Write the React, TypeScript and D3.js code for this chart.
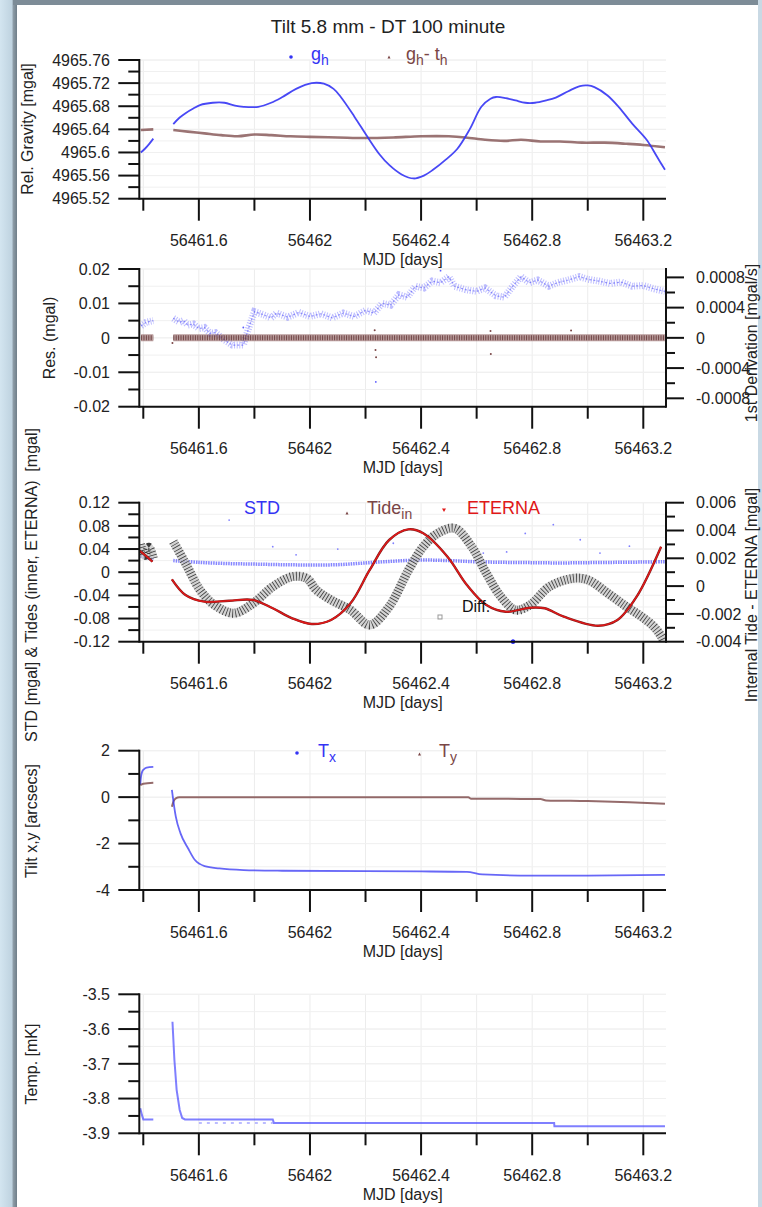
import React from 'react';
import * as d3 from 'd3';

type P = [number, number | null];

// ---------- shared x axis ----------
const xDomain: [number, number] = [56461.3856, 56463.2817];
const xMajorTicks = [56461.6, 56462, 56462.4, 56462.8, 56463.2];
const xMajorLabels = ['56461.6', '56462', '56462.4', '56462.8', '56463.2'];
const xMinorTicks = [56461.4, 56461.8, 56462.2, 56462.6, 56463.0];

// ---------- panel 1 : relative gravity ----------
const gh: P[] = [
  [56461.391, 4965.600], [56461.405, 4965.606], [56461.420, 4965.614], [56461.436, 4965.624], [56461.47, null],
  [56461.508, 4965.649], [56461.530, 4965.660], [56461.552, 4965.668], [56461.580, 4965.676], [56461.604, 4965.682],
  [56461.650, 4965.686], [56461.692, 4965.686], [56461.730, 4965.681], [56461.761, 4965.679], [56461.814, 4965.679],
  [56461.860, 4965.686], [56461.901, 4965.696], [56461.950, 4965.710], [56462.006, 4965.720], [56462.050, 4965.719],
  [56462.085, 4965.710], [56462.111, 4965.696], [56462.160, 4965.662], [56462.207, 4965.627], [56462.250, 4965.597],
  [56462.286, 4965.578], [56462.330, 4965.562], [56462.373, 4965.555], [56462.410, 4965.560], [56462.443, 4965.570],
  [56462.490, 4965.588], [56462.530, 4965.606], [56462.575, 4965.640], [56462.617, 4965.679], [56462.650, 4965.693],
  [56462.670, 4965.696], [56462.705, 4965.694], [56462.740, 4965.690], [56462.775, 4965.686], [56462.810, 4965.686],
  [56462.850, 4965.690], [56462.885, 4965.695], [56462.930, 4965.706], [56462.972, 4965.715], [56463.000, 4965.716],
  [56463.024, 4965.713], [56463.070, 4965.699], [56463.111, 4965.679], [56463.160, 4965.650], [56463.212, 4965.622],
  [56463.250, 4965.592], [56463.278, 4965.570],
];
const ghMinusTh: P[] = [
  [56461.391, 4965.639], [56461.436, 4965.640], [56461.47, null], [56461.508, 4965.639], [56461.56, 4965.636],
  [56461.62, 4965.633], [56461.68, 4965.630], [56461.74, 4965.628], [56461.80, 4965.631], [56461.86, 4965.630],
  [56461.93, 4965.628], [56462.0, 4965.627], [56462.1, 4965.626], [56462.2, 4965.625], [56462.3, 4965.626],
  [56462.4, 4965.628], [56462.5, 4965.628], [56462.56, 4965.626], [56462.63, 4965.622], [56462.70, 4965.620],
  [56462.76, 4965.622], [56462.83, 4965.619], [56462.9, 4965.619], [56462.98, 4965.617], [56463.06, 4965.617],
  [56463.14, 4965.615], [56463.2, 4965.613], [56463.278, 4965.609],
];

// ---------- panel 2 : residuals ----------
const resGh: P[] = [
  [56461.392, 0.0035], [56461.41, 0.0045], [56461.436, 0.0050], [56461.47, null],
  [56461.508, 0.0057], [56461.53, 0.0045], [56461.545, 0.0050], [56461.56, 0.0037], [56461.58, 0.0040],
  [56461.60, 0.0027], [56461.62, 0.0030], [56461.64, 0.0013], [56461.66, 0.0015], [56461.69, -0.0005],
  [56461.72, -0.0021], [56461.76, -0.0021], [56461.78, 0.0030], [56461.80, 0.0076], [56461.83, 0.0068],
  [56461.86, 0.0058], [56461.88, 0.0072], [56461.92, 0.0060], [56461.96, 0.0074], [56462.0, 0.0062],
  [56462.04, 0.0070], [56462.08, 0.0058], [56462.12, 0.0072], [56462.16, 0.0062], [56462.2, 0.0080],
  [56462.23, 0.0072], [56462.26, 0.0100], [56462.29, 0.0095], [56462.32, 0.0125], [56462.35, 0.0118],
  [56462.38, 0.0150], [56462.41, 0.0145], [56462.44, 0.0165], [56462.47, 0.0160], [56462.50, 0.0178],
  [56462.52, 0.0150], [56462.56, 0.0140], [56462.60, 0.0135], [56462.63, 0.0145], [56462.67, 0.0122],
  [56462.70, 0.0118], [56462.73, 0.0150], [56462.76, 0.0178], [56462.79, 0.0160], [56462.82, 0.0168],
  [56462.86, 0.0150], [56462.89, 0.0160], [56462.93, 0.0168], [56462.97, 0.0178], [56463.0, 0.0170],
  [56463.04, 0.0165], [56463.08, 0.0158], [56463.12, 0.0162], [56463.16, 0.0150], [56463.2, 0.0152],
  [56463.24, 0.0142], [56463.278, 0.0135],
];
const resGhTh: P[] = [[56461.392, 0], [56461.436, 0], [56461.47, null], [56461.508, 0], [56463.278, 0]];
const resGhOutliers: [number, number][] = [[56462.237, -0.0128], [56461.76, 0.0030], [56462.47, 0.0195]];
const resGhThOutliers: [number, number][] = [
  [56462.236, -0.0035], [56462.238, -0.0056], [56462.233, 0.0022], [56462.651, -0.0047], [56462.65, 0.0020],
  [56461.505, -0.0015], [56462.94, 0.0021],
];

// ---------- panel 3 : STD & tides ----------
const stdSeries: P[] = [
  [56461.390, 0.028], [56461.436, 0.022], [56461.47, null], [56461.508, 0.020], [56461.6, 0.017],
  [56461.7, 0.015], [56461.8, 0.014], [56461.9, 0.013], [56462.0, 0.0125], [56462.1, 0.013], [56462.2, 0.016],
  [56462.3, 0.019], [56462.4, 0.021], [56462.5, 0.020], [56462.6, 0.018], [56462.7, 0.017], [56462.8, 0.0165],
  [56462.9, 0.016], [56463.0, 0.0165], [56463.1, 0.017], [56463.2, 0.0175], [56463.278, 0.018],
];
const stdOutliers: [number, number][] = [
  [56461.709, 0.090], [56461.866, 0.044], [56462.624, 0.033], [56462.708, 0.035], [56462.775, 0.067],
  [56462.876, 0.082], [56462.973, 0.056], [56463.044, 0.033], [56462.1, 0.040], [56462.3, 0.050],
  [56461.95, 0.030], [56463.15, 0.045], [56462.731, -0.12],
];
const eterna: P[] = [
  [56461.386, 0.0371], [56461.410, 0.028], [56461.433, 0.0181], [56461.47, null], [56461.503, -0.0123],
  [56461.552, -0.0394], [56461.621, -0.0509], [56461.709, -0.0492], [56461.796, -0.048], [56461.866, -0.0623],
  [56461.936, -0.0796], [56462.006, -0.0894], [56462.076, -0.0825], [56462.146, -0.0537], [56462.215, 0.0038],
  [56462.285, 0.0556], [56462.355, 0.074], [56462.408, 0.0672], [56462.495, 0.0268], [56462.565, -0.022],
  [56462.635, -0.0566], [56462.705, -0.0682], [56462.792, -0.0613], [56462.845, -0.0623], [56462.914, -0.0768],
  [56463.037, -0.0924], [56463.107, -0.0825], [56463.176, -0.0423], [56463.264, 0.044],
];
const tideDiff: P[] = [
  [56461.390, 0.0030], [56461.405, 0.0022], [56461.42, 0.0028], [56461.436, 0.0020], [56461.47, null],
  [56461.508, 0.0032], [56461.552, 0.00164], [56461.604, -0.00028], [56461.656, -0.00136], [56461.726, -0.00195],
  [56461.796, -0.00123], [56461.866, -0.00004], [56461.936, 0.00068], [56461.988, 0.00056], [56462.023, -0.00028],
  [56462.076, -0.0010], [56462.146, -0.00172], [56462.215, -0.0028], [56462.285, -0.00148], [56462.355, 0.00116],
  [56462.408, 0.00284], [56462.460, 0.0038], [56462.521, 0.00416], [56462.582, 0.00284], [56462.635, 0.00092],
  [56462.687, -0.00076], [56462.740, -0.00172], [56462.792, -0.00136], [56462.862, -0.00004], [56462.949, 0.00056],
  [56463.002, 0.00044], [56463.072, -0.00051], [56463.141, -0.0015], [56463.194, -0.0022], [56463.237, -0.0029],
  [56463.264, -0.0036], [56463.285, -0.0045],
];

// ---------- panel 4 : tilt ----------
const tiltX: P[] = [
  [56461.389, 0.55], [56461.392, 0.9], [56461.396, 1.1], [56461.402, 1.2], [56461.412, 1.27], [56461.436, 1.30],
  [56461.47, null], [56461.503, 0.31], [56461.517, -0.84], [56461.534, -1.56], [56461.561, -2.2], [56461.586, -2.71],
  [56461.621, -2.97], [56461.674, -3.07], [56461.761, -3.14], [56461.9, -3.17], [56462.2, -3.19], [56462.4, -3.2],
  [56462.565, -3.22], [56462.62, -3.33], [56462.8, -3.38], [56463.0, -3.38], [56463.278, -3.35],
];
const tiltY: P[] = [
  [56461.389, 0.52], [56461.40, 0.58], [56461.436, 0.62], [56461.47, null], [56461.503, -0.41], [56461.51, -0.15],
  [56461.517, -0.05], [56461.53, 0], [56462.57, 0], [56462.58, -0.07], [56462.83, -0.08], [56462.85, -0.14],
  [56463.0, -0.17], [56463.15, -0.22], [56463.278, -0.28],
];

// ---------- panel 5 : temperature ----------
const temp: P[] = [
  [56461.389, -3.828], [56461.395, -3.847], [56461.40, -3.86], [56461.436, -3.86], [56461.47, null],
  [56461.505, -3.579], [56461.512, -3.689], [56461.52, -3.775], [56461.531, -3.833], [56461.54, -3.856],
  [56461.55, -3.86], [56461.866, -3.86], [56461.87, -3.87], [56462.879, -3.87], [56462.88, -3.88], [56463.278, -3.88],
];
const tempLow: P[] = [[56461.6, -3.87], [56461.866, -3.87]];

// ---------- axes ----------
const gravTicks = [4965.52, 4965.56, 4965.6, 4965.64, 4965.68, 4965.72, 4965.76];
const gravLabels = ['4965.52', '4965.56', '4965.6', '4965.64', '4965.68', '4965.72', '4965.76'];
const resTicks = [-0.02, -0.01, 0, 0.01, 0.02];
const resLabels = ['-0.02', '-0.01', '0', '0.01', '0.02'];
const derivTicks = [-0.0008, -0.0004, 0, 0.0004, 0.0008];
const derivLabels = ['-0.0008', '-0.0004', '0', '0.0004', '0.0008'];
const stdTicks = [-0.12, -0.08, -0.04, 0, 0.04, 0.08, 0.12];
const stdLabels = ['-0.12', '-0.08', '-0.04', '0', '0.04', '0.08', '0.12'];
const diffTicks = [-0.004, -0.002, 0, 0.002, 0.004, 0.006];
const diffLabels = ['-0.004', '-0.002', '0', '0.002', '0.004', '0.006'];
const tiltTicks = [-4, -2, 0, 2];
const tiltLabels = ['-4', '-2', '0', '2'];
const tempTicks = [-3.9, -3.8, -3.7, -3.6, -3.5];
const tempLabels = ['-3.9', '-3.8', '-3.7', '-3.6', '-3.5'];

const BLUE = '#3434f4';
const BROWN = '#7a4646';
const RED = '#e01818';
const FONT = '"Liberation Sans", Arial, Helvetica, sans-serif';

const X0 = 139.3;
const X1 = 666;
const x = d3.scaleLinear().domain(xDomain).range([X0, X1]);

interface AxisDef { domain: [number, number]; ticks: number[]; labels: string[]; minorStep: number }
interface PanelDef {
  id: string; top: number; bottom: number; left: AxisDef; right?: AxisDef;
  label: string; labelX: number; labelY: number;
  rlabel?: string; rlabelY?: number;
}

const panels: PanelDef[] = [
  { id: 'p1', top: 60, bottom: 198.7, left: { domain: [4965.52, 4965.76], ticks: gravTicks, labels: gravLabels, minorStep: 0.02 },
    label: 'Rel. Gravity [mgal]', labelX: 33, labelY: 129 },
  { id: 'p2', top: 269, bottom: 406.7, left: { domain: [-0.02, 0.02], ticks: resTicks, labels: resLabels, minorStep: 0.005 },
    right: { domain: [-0.000911, 0.000911], ticks: derivTicks, labels: derivLabels, minorStep: 0.0002 },
    label: 'Res. (mgal)', labelX: 55, labelY: 338, rlabel: '1st Derivation [mgal/s]', rlabelY: 343 },
  { id: 'p3', top: 502.7, bottom: 641.7, left: { domain: [-0.12, 0.12], ticks: stdTicks, labels: stdLabels, minorStep: 0.02 },
    right: { domain: [-0.004, 0.006], ticks: diffTicks, labels: diffLabels, minorStep: 0.001 },
    label: 'STD [mgal] & Tides (inner, ETERNA)\u00a0\u00a0[mgal]', labelX: 37, labelY: 585,
    rlabel: 'Internal Tide - ETERNA [mgal]', rlabelY: 595 },
  { id: 'p4', top: 750.7, bottom: 890, left: { domain: [-4, 2], ticks: tiltTicks, labels: tiltLabels, minorStep: 1 },
    label: 'Tilt x,y [arcsecs]', labelX: 37, labelY: 821 },
  { id: 'p5', top: 994.3, bottom: 1133.3, left: { domain: [-3.9, -3.5], ticks: tempTicks, labels: tempLabels, minorStep: 0.05 },
    label: 'Temp. [mK]', labelX: 37, labelY: 1064 },
];

function minorList(a: AxisDef): number[] {
  const out: number[] = [];
  const [lo, hi] = a.domain;
  const start = Math.ceil(lo / a.minorStep - 1e-9);
  const end = Math.floor(hi / a.minorStep + 1e-9);
  for (let i = start; i <= end; i++) out.push(+(i * a.minorStep).toFixed(8));
  return out;
}

function yScale(p: PanelDef, a: AxisDef) {
  return d3.scaleLinear().domain(a.domain).range([p.bottom, p.top]);
}

function linePath(data: P[], y: d3.ScaleLinear<number, number>, curve: d3.CurveFactory = d3.curveCatmullRom.alpha(0.5)) {
  return d3.line<P>().defined(d => d[1] !== null).x(d => x(d[0])).y(d => y(d[1] as number)).curve(curve)(data) || '';
}

function Grid({ p }: { p: PanelDef }) {
  const yl = yScale(p, p.left);
  const allX = [...xMajorTicks, ...xMinorTicks];
  return (
    <g>
      {allX.map((v, i) => (
        <line key={'gx' + i} x1={x(v)} x2={x(v)} y1={p.top} y2={p.bottom} stroke="#ececec" strokeWidth={1} />
      ))}
      {[...p.left.ticks, ...minorList(p.left)].map((v, i) => (
        <line key={'gy' + i} x1={X0} x2={X1} y1={yl(v)} y2={yl(v)} stroke="#f0f0f0" strokeWidth={1} />
      ))}
    </g>
  );
}

function Axes({ p }: { p: PanelDef }) {
  const yl = yScale(p, p.left);
  const majorSet = new Set(p.left.ticks.map(v => v.toFixed(6)));
  const minors = minorList(p.left).filter(v => !majorSet.has(v.toFixed(6)));
  const yr = p.right ? yScale(p, p.right) : null;
  const rMajorSet = p.right ? new Set(p.right.ticks.map(v => v.toFixed(8))) : new Set<string>();
  const rMinors = p.right ? minorList(p.right).filter(v => !rMajorSet.has(v.toFixed(8))) : [];
  const cx = (X0 + X1) / 2;
  return (
    <g fontFamily={FONT} fill="#222">
      <line x1={X0} x2={X0} y1={p.top - 1} y2={p.bottom + 1} stroke="#111" strokeWidth={2} />
      {p.left.ticks.map((v, i) => (
        <g key={'lt' + i}>
          <line x1={X0 - 21} x2={X0} y1={yl(v)} y2={yl(v)} stroke="#111" strokeWidth={2} />
          <text x={110} y={yl(v)} dy="0.36em" textAnchor="end" fontSize={16}>{p.left.labels[i]}</text>
        </g>
      ))}
      {minors.map((v, i) => (
        <line key={'lm' + i} x1={X0 - 11} x2={X0} y1={yl(v)} y2={yl(v)} stroke="#111" strokeWidth={2} />
      ))}
      <line x1={X0} x2={X1} y1={p.bottom} y2={p.bottom} stroke="#111" strokeWidth={2} />
      {xMinorTicks.map((v, i) => (
        <line key={'bm' + i} x1={x(v)} x2={x(v)} y1={p.bottom} y2={p.bottom + 12} stroke="#111" strokeWidth={2} />
      ))}
      {xMajorTicks.map((v, i) => (
        <g key={'bt' + i}>
          <line x1={x(v)} x2={x(v)} y1={p.bottom} y2={p.bottom + 22} stroke="#111" strokeWidth={2} />
          <text x={x(v)} y={p.bottom + 42} dy="0.36em" textAnchor="middle" fontSize={16}>{xMajorLabels[i]}</text>
        </g>
      ))}
      <text x={cx} y={p.bottom + 61} dy="0.36em" textAnchor="middle" fontSize={16}>MJD [days]</text>
      <text transform={`translate(${p.labelX},${p.labelY}) rotate(-90)`} textAnchor="middle" fontSize={16}>{p.label}</text>
      {p.right && yr && (
        <g>
          <line x1={X1} x2={X1} y1={p.top - 1} y2={p.bottom + 1} stroke="#111" strokeWidth={2} />
          {p.right.ticks.map((v, i) => (
            <g key={'rt' + i}>
              <line x1={X1} x2={X1 + 18} y1={yr(v)} y2={yr(v)} stroke="#111" strokeWidth={2} />
              <text x={696} y={yr(v)} dy="0.36em" textAnchor="start" fontSize={16}>{p.right!.labels[i]}</text>
            </g>
          ))}
          {rMinors.map((v, i) => (
            <line key={'rm' + i} x1={X1} x2={X1 + 9} y1={yr(v)} y2={yr(v)} stroke="#111" strokeWidth={2} />
          ))}
          <text transform={`translate(757,${p.rlabelY}) rotate(-90)`} textAnchor="middle" fontSize={16}>{p.rlabel}</text>
        </g>
      )}
    </g>
  );
}

export default function App() {
  const [p1, p2, p3, p4, p5] = panels;
  const y1 = yScale(p1, p1.left);
  const y2 = yScale(p2, p2.left);
  const y3 = yScale(p3, p3.left);
  const y3r = yScale(p3, p3.right!);
  const y4 = yScale(p4, p4.left);
  const y5 = yScale(p5, p5.left);

  return (
    <svg width={762} height={1207} style={{ position: 'absolute', left: 0, top: 0, background: '#fff' }}
      xmlns="http://www.w3.org/2000/svg">
      <defs>
        <linearGradient id="leftEdge" x1="0" x2="1" y1="0" y2="0">
          <stop offset="0" stopColor="#d3e5f0" />
          <stop offset="0.7" stopColor="#bfd3e0" />
          <stop offset="0.78" stopColor="#8d9ca7" />
          <stop offset="1" stopColor="#6f7e89" />
        </linearGradient>
        {panels.map(p => (
          <clipPath id={'clip-' + p.id} key={p.id}>
            <rect x={X0} y={p.top} width={X1 - X0} height={p.bottom - p.top} />
          </clipPath>
        ))}
      </defs>
      <rect x={0} y={0} width={762} height={1207} fill="#fff" />
      <rect x={0} y={0} width={17} height={1207} fill="url(#leftEdge)" />
      <rect x={13} y={0} width={749} height={5} fill="#7d8c97" />
      <rect x={758} y={0} width={4} height={1207} fill="#c9d9e4" />

      {panels.map(p => <Grid key={'g' + p.id} p={p} />)}

      <text x={388} y={33} textAnchor="middle" fontSize={19} fontFamily={FONT} fill="#222">Tilt 5.8 mm - DT 100 minute</text>

      {/* ---- panel 1 ---- */}
      <g clipPath="url(#clip-p1)">
        <path d={linePath(ghMinusTh, y1)} fill="none" stroke={BROWN} strokeWidth={2.6} opacity={0.75} />
        <path d={linePath(gh, y1)} fill="none" stroke={BLUE} strokeWidth={1.8} opacity={0.9} />
      </g>
      <g fontFamily={FONT}>
        <circle cx={291} cy={57} r={1.8} fill={BLUE} />
        <text x={311} y={60} fontSize={18} fill={BLUE}>g<tspan fontSize={14} dy={5}>h</tspan></text>
        <path d="M387.5,58.5 L389,55.5 L390.5,58.5 Z" fill={BROWN} />
        <text x={406} y={60} fontSize={18} fill={BROWN}>g<tspan fontSize={14} dy={5}>h</tspan><tspan dy={-5}>- t</tspan><tspan fontSize={14} dy={5}>h</tspan></text>
      </g>

      {/* ---- panel 2 ---- */}
      <g clipPath="url(#clip-p2)">
        <path d={linePath(resGh, y2, d3.curveLinear)} fill="none" stroke="#5c5cff" strokeWidth={7} opacity={0.4} strokeDasharray="1 1.6" />
        <path d={linePath(resGh, y2, d3.curveLinear)} fill="none" stroke="#4646f6" strokeWidth={1.2} opacity={0.55} strokeDasharray="2 2" />
        {resGhOutliers.map((d, i) => <circle key={'ro' + i} cx={x(d[0])} cy={y2(d[1])} r={0.9} fill="#5c5cff" />)}
        <path d={linePath(resGhTh, y2, d3.curveLinear)} fill="none" stroke="#8a5a5a" strokeWidth={7} opacity={0.6} />
        <path d={linePath(resGhTh, y2, d3.curveLinear)} fill="none" stroke="#5a2a2a" strokeWidth={5} opacity={0.75} strokeDasharray="1 1.4" />
        {resGhThOutliers.map((d, i) => <circle key={'rb' + i} cx={x(d[0])} cy={y2(d[1])} r={1} fill={BROWN} />)}
      </g>

      {/* ---- panel 3 ---- */}
      <g clipPath="url(#clip-p3)">
        {stdOutliers.map((d, i) => (
          <circle key={'so' + i} cx={x(d[0])} cy={y3(d[1])} r={d[1] <= -0.119 ? 2.2 : 0.9} fill={d[1] <= -0.119 ? '#2020ff' : '#8080ff'} />
        ))}
        <path d={linePath(stdSeries, y3)} fill="none" stroke="#5050ff" strokeWidth={3.5} opacity={0.7} strokeDasharray="1.5 1" />
        <path d={linePath(tideDiff, y3r)} fill="none" stroke="#c4c4c4" strokeWidth={9} opacity={0.75} />
        <path d={linePath(tideDiff, y3r)} fill="none" stroke="#2a2a2a" strokeWidth={9} strokeDasharray="0.8 2.2" opacity={0.9} />
        <path d={linePath(eterna, y3)} fill="none" stroke="#7a2020" strokeWidth={2.4} />
        <path d={linePath(eterna, y3)} fill="none" stroke={RED} strokeWidth={1.5} />
      </g>
      <circle cx={x(56462.731)} cy={641.7} r={2.2} fill="#2020ff" />
      <g fontFamily={FONT}>
        <text x={244} y={514} fontSize={18} fill={BLUE}>STD</text>
        <path d="M345.5,514.5 L347,511.5 L348.5,514.5 Z" fill={BROWN} />
        <text x={367} y={514} fontSize={18} fill={BROWN}>Tide<tspan fontSize={14} dy={5}>in</tspan></text>
        <path d="M442,508.5 L446,508.5 L444,512 Z" fill={RED} />
        <text x={467} y={514} fontSize={18} fill={RED}>ETERNA</text>
        <rect x={438} y={615} width={4} height={4} fill="none" stroke="#999" strokeWidth={1} />
        <text x={462} y={612} fontSize={16} fill="#111">Diff.</text>
      </g>

      {/* ---- panel 4 ---- */}
      <g clipPath="url(#clip-p4)">
        <path d={linePath(tiltY, y4, d3.curveMonotoneX)} fill="none" stroke={BROWN} strokeWidth={2} opacity={0.8} />
        <path d={linePath(tiltX, y4, d3.curveMonotoneX)} fill="none" stroke={BLUE} strokeWidth={1.8} opacity={0.75} />
      </g>
      <g fontFamily={FONT}>
        <circle cx={297} cy={753} r={1.8} fill={BLUE} />
        <text x={318} y={757} fontSize={18} fill={BLUE}>T<tspan fontSize={14} dy={5}>x</tspan></text>
        <path d="M418,755.5 L419.5,752.5 L421,755.5 Z" fill={BROWN} />
        <text x={439} y={757} fontSize={18} fill={BROWN}>T<tspan fontSize={14} dy={5}>y</tspan></text>
      </g>

      {/* ---- panel 5 ---- */}
      <g clipPath="url(#clip-p5)">
        <path d={linePath(tempLow, y5, d3.curveLinear)} fill="none" stroke="#6a6aff" strokeWidth={1.5} strokeDasharray="3 5" opacity={0.6} />
        <path d={linePath(temp, y5, d3.curveLinear)} fill="none" stroke="#4848ff" strokeWidth={2} opacity={0.7} />
      </g>

      {panels.map(p => <Axes key={'a' + p.id} p={p} />)}
    </svg>
  );
}
